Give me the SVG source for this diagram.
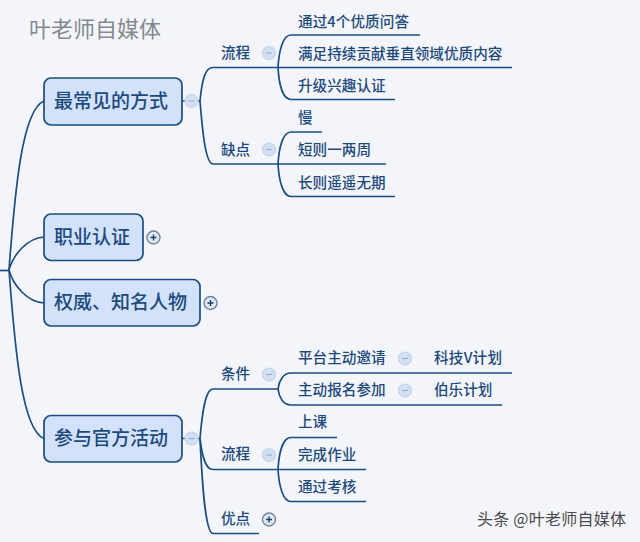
<svg xmlns="http://www.w3.org/2000/svg" width="640" height="542" viewBox="0 0 640 542">
<style>
text{font-family:"Noto Sans CJK SC","Noto Sans",sans-serif;fill:#1d4a7c;font-weight:500}
.n{font-size:19px}
.s{font-size:14.6px}
.box{fill:#d2e2fb;stroke:#1c4d80;stroke-width:1.7}
.c{fill:none;stroke:#1c4d80;stroke-width:1.7}
.m{fill:#d2dff3;stroke:#c3d2ea;stroke-width:1.2}
.g{fill:none;stroke:#9fb3cf;stroke-width:1.2}
.p{fill:#e2e8f2;stroke:#6f849f;stroke-width:1.4}
.k{fill:none;stroke:#1c3f66;stroke-width:1.4}
</style>
<defs>
<g id="minus"><circle class="m" r="6.500"/><path class="g" d="M-3 0H3"/></g>
<g id="plus"><circle class="p" r="6.500"/><path class="k" d="M-3 0H3M0-3V3"/></g>
</defs>
<rect width="640" height="542" fill="#f3f5fa"/>
<g id="connectors">
<path class="c" d="M0 270.500H9"/>
<path class="c" d="M9 270C15 190 22 110 44 101"/>
<path class="c" d="M9 270C13 255 27 238 44 237"/>
<path class="c" d="M9 270C13 285 27 302 44 303"/>
<path class="c" d="M9 270C15 350 22 430 44 438.500"/>
<path class="c" d="M182 101H185M197 101H200"/>
<path class="c" d="M200 101C202 80 205 67.500 213 67.500H512"/>
<path class="c" d="M200 101C202 125 205 164 213 164H386"/>
<path class="c" d="M278 67.500C279 50 283 35 291 35H420"/>
<path class="c" d="M278 67.500C279 85 283 99.500 291 99.500H395"/>
<path class="c" d="M278 164C279 147 283 132 291 132H322"/>
<path class="c" d="M278 164C279 181 283 196.500 291 196.500H395"/>
<path class="c" d="M182 438.500H185M197 438.500H200"/>
<path class="c" d="M200 438.500C202 415 205 389 213 389H278"/>
<path class="c" d="M200 438.500C202 455 205 469.500 213 469.500H366"/>
<path class="c" d="M200 438.500C202 480 205 533.500 213 533.500H259"/>
<path class="c" d="M278 389C279 381 283 373 291 373H512"/>
<path class="c" d="M278 389C279 397 283 405 291 405H502"/>
<path class="c" d="M278 469.500C279 452 283 437.500 291 437.500H337"/>
<path class="c" d="M278 469.500C279 486 283 501.500 291 501.500H366"/>
</g>
<g id="title"><text x="29" y="37" font-size="22" style="fill:#85898e;font-weight:400">叶老师自媒体</text></g>
<g id="n1"><rect class="box" x="44" y="78" width="138" height="47" rx="7"/><text class="n" x="54" y="108">最常见的方式</text><use href="#minus" x="191.500" y="101"/></g>
<g id="n2"><rect class="box" x="44" y="214" width="99" height="46.500" rx="7"/><text class="n" x="54" y="244">职业认证</text><use href="#plus" x="153.500" y="237.500"/></g>
<g id="n3"><rect class="box" x="44" y="279.500" width="156" height="46.500" rx="7"/><text class="n" x="54" y="309">权威、知名人物</text><use href="#plus" x="210.500" y="303"/></g>
<g id="n4"><rect class="box" x="44" y="415.500" width="138" height="46.500" rx="7"/><text class="n" x="54" y="445">参与官方活动</text><use href="#minus" x="191.500" y="438.500"/></g>
<g id="n1a"><text class="s" x="221" y="58">流程</text><use href="#minus" x="269" y="53"/></g>
<g id="n1a1"><text class="s" x="298" y="27" textLength="111">通过4个优质问答</text></g>
<g id="n1a2"><text class="s" x="298" y="59">满足持续贡献垂直领域优质内容</text></g>
<g id="n1a3"><text class="s" x="298" y="91">升级兴趣认证</text></g>
<g id="n1b"><text class="s" x="221" y="155">缺点</text><use href="#minus" x="269" y="149.500"/></g>
<g id="n1b1"><text class="s" x="298" y="123">慢</text></g>
<g id="n1b2"><text class="s" x="298" y="155">短则一两周</text></g>
<g id="n1b3"><text class="s" x="298" y="188">长则遥遥无期</text></g>
<g id="n4a"><text class="s" x="221" y="379">条件</text><use href="#minus" x="269" y="374.500"/></g>
<g id="n4a1"><text class="s" x="298" y="363">平台主动邀请</text><use href="#minus" x="405" y="358.500"/></g>
<g id="n4a1a"><text class="s" x="434" y="363" textLength="68">科技V计划</text></g>
<g id="n4a2"><text class="s" x="298" y="395">主动报名参加</text><use href="#minus" x="405" y="390.500"/></g>
<g id="n4a2a"><text class="s" x="434" y="395">伯乐计划</text></g>
<g id="n4b"><text class="s" x="221" y="459">流程</text><use href="#minus" x="269" y="455"/></g>
<g id="n4b1"><text class="s" x="298" y="427">上课</text></g>
<g id="n4b2"><text class="s" x="298" y="460">完成作业</text></g>
<g id="n4b3"><text class="s" x="298" y="492">通过考核</text></g>
<g id="n4c"><text class="s" x="221" y="524">优点</text><use href="#plus" x="269" y="519.500"/></g>
<g id="watermark"><text x="477" y="525" font-size="16" textLength="149" style="fill:#4a4a4a;font-weight:400">头条 @叶老师自媒体</text></g>
</svg>
